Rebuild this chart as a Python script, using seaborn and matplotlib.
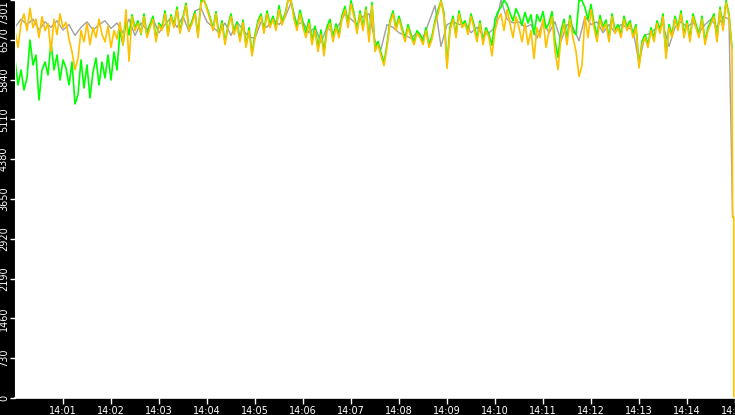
import numpy as np
import pandas as pd
import seaborn as sns
import matplotlib
matplotlib.use("Agg")
import matplotlib.pyplot as plt

# sampling step (seconds) from 14:00
sample_s = 3.75
gray_sample_s = 7.5

orange_vals = [
    6740, 6430, 6870, 7046, 6740, 7150, 6794, 6948, 6610, 6996,
    6740, 6870, 6354, 6948, 6668, 7046, 6794, 6892, 6584, 6354,
    6024, 6226, 6740, 6534, 6870, 6482, 6794, 6610, 6948, 6668,
    6534, 6822, 6430, 6740, 6584, 6892, 6482, 7124, 6178, 6996,
    6740, 6870, 6688, 6996, 6610, 6794, 6948, 6534, 6843, 6740,
    7046, 6640, 6996, 6794, 7124, 6688, 6948, 7200, 6740, 6870,
    7046, 6610, 7253, 7290, 7124, 6948, 6740, 7046, 6610, 6870,
    6482, 6794, 6996, 6668, 6843, 6534, 6892, 6430, 6740, 6276,
    6610, 6870, 6996, 6688, 7046, 6794, 6948, 6740, 7124, 6843,
    6996, 7290, 7290, 6948, 6740, 7046, 6794, 6610, 6870, 6482,
    6740, 6354, 6668, 6276, 6740, 6870, 6534, 6794, 6610, 6948,
    7124, 6794, 7228, 6996, 6688, 7046, 6740, 7124, 6534, 7200,
    6354, 6482, 6276, 6097, 6430, 6870, 7046, 6740, 6948, 6740,
    6534, 6794, 6610, 6482, 6688, 6610, 6482, 6740, 6430, 6584,
    6870, 7046, 7278, 6996, 6045, 6740, 6948, 6610, 7046, 6794,
    6870, 6668, 6996, 6794, 6534, 6870, 6482, 6740, 6610, 6276,
    6740, 6948, 7046, 6740, 7124, 6870, 6610, 6996, 6794, 6534,
    6870, 6482, 6740, 6226, 6794, 6610, 6948, 6430, 6740, 6996,
    6354, 6024, 6610, 6870, 6482, 6948, 6610, 6354, 5900, 6100,
    6996, 6610, 7124, 6794, 6534, 6948, 6740, 6870, 6534, 6996,
    6688, 6794, 6610, 6948, 6740, 6870, 6610, 6794, 6054, 6482,
    6610, 6430, 6740, 6534, 6870, 6688, 6996, 6226, 6794, 6610,
    6948, 6740, 7046, 6610, 6870, 6534, 6996, 6794, 6610, 6948,
    6482, 6740, 6870, 6996, 6534, 7124, 6740, 7253, 6996, 6384,
]
# the drop at the very end of the window
orange_tail_t = [897.0, 898.5, 898.5]
orange_tail = [3320, 3320, 0]

green_vals = [
    6201, 5742, 6017, 5650, 5870, 6567, 6109, 6292, 5467, 6017,
    6164, 5925, 6530, 6017, 6292, 5833, 6201, 6054, 5742, 6164,
    5394, 5559, 6201, 5687, 6109, 5504, 5980, 6237, 5742, 6164,
    5870, 6292, 5833, 6347, 6017, 6751, 6476, 6934, 6659, 7032,
    6794, 6920, 6668, 7046, 6654, 6850, 7004, 6584, 6878, 6794,
    7102, 6668, 7032, 6836, 7172, 6724, 6990, 7242, 6780, 6906,
    7088, 6654, 7290, 7301, 7158, 6990, 6780, 7088, 6654, 6920,
    6528, 6836, 7046, 6710, 6892, 6584, 6934, 6472, 6794, 6318,
    6668, 6920, 7046, 6738, 7102, 6850, 7004, 6794, 7200, 6906,
    7046, 7294, 7301, 7018, 6808, 7116, 6878, 6696, 6948, 6556,
    6822, 6430, 6752, 6346, 6808, 6948, 6598, 6864, 6668, 7018,
    7186, 6864, 7290, 7060, 6752, 7102, 6808, 7172, 6598, 7256,
    6416, 6542, 6332, 6150, 6486, 6920, 7102, 6794, 7004, 6794,
    6598, 6850, 6668, 6542, 6738, 6668, 6542, 6794, 6486, 6640,
    6920, 7116, 7290, 7060, 6108, 6794, 7004, 6668, 7102, 6850,
    6920, 6724, 7046, 6850, 6598, 6920, 6542, 6794, 6668, 6472,
    6948, 7088, 7172, 7301, 7220, 7060, 6920, 7144, 7018, 6836,
    7074, 6878, 7032, 6668, 7032, 6906, 7088, 6780, 6878, 7088,
    6556, 6248, 6738, 6948, 6584, 7018, 6724, 6668, 7301, 7290,
    7158, 6948, 7220, 6878, 6640, 7018, 6808, 6934, 6598, 7046,
    6752, 6850, 6668, 7004, 6808, 6920, 6668, 6850, 6100, 6542,
    6668, 6486, 6794, 6598, 6920, 6752, 7046, 6290, 6850, 6668,
    7004, 6794, 7102, 6668, 6920, 6598, 7046, 6850, 6668, 7004,
    6542, 6794, 6920, 7046, 6598, 7172, 6794, 7290, 7046, 6420,
]

gray_vals = [
    6800, 6950, 6850, 6950, 6750, 6900, 6800, 6920, 6750, 6850,
    6650, 6800, 6900, 6750, 6850, 6920, 6780, 6880, 6700, 6950,
    6650, 6880, 6750, 6950, 6700, 6850, 6980, 6800, 7000, 6720,
    7100, 7150, 6900, 6800, 6700, 6880, 6650, 6900, 6750, 6620,
    6600, 6900, 6800, 6950, 6850, 6980, 7250, 6850, 6900, 6700,
    6800, 6520, 6800, 6700, 6850, 7050, 6950, 6850, 7000, 7050,
    6550, 6400, 6850, 6800, 6700, 6650, 6600, 6700, 6600, 6900,
    7200, 6450, 6850, 6900, 6850, 6880, 6700, 6800, 6650, 6700,
    6800, 7301, 6950, 6880, 6900, 6800, 6850, 6600, 6900, 6700,
    6900, 6550, 6850, 6800, 6550, 7000, 6850, 6900, 6700, 6850,
    6700, 6850, 6800, 6750, 6150, 6650, 6700, 6800, 6850, 6450,
    6800, 6900, 6800, 6900, 6700, 6850, 6950, 6800, 7000, 6950,
]
gray_tail_t = [897.0]
gray_tail = [3320]

y_ticks = [0, 730, 1460, 2190, 2920, 3650, 4380, 5110, 5840, 6570, 7301]
x_ticks = [60, 120, 180, 240, 300, 360, 420, 480, 540, 600, 660, 720, 780, 840, 900]
x_labels = ['14:01', '14:02', '14:03', '14:04', '14:05', '14:06', '14:07', '14:08',
            '14:09', '14:10', '14:11', '14:12', '14:13', '14:14', '14:15']

orange_t = list(np.arange(len(orange_vals)) * sample_s) + orange_tail_t
green_t = list(np.arange(len(green_vals)) * sample_s)
gray_t = list(np.arange(len(gray_vals)) * gray_sample_s) + gray_tail_t

orange = pd.DataFrame({'t': orange_t, 'v': orange_vals + orange_tail})
green = pd.DataFrame({'t': green_t, 'v': green_vals})
gray = pd.DataFrame({'t': gray_t, 'v': gray_vals + gray_tail})

sns.set_style('white')
plt.rcParams['font.family'] = ['DejaVu Sans']

fig = plt.figure(figsize=(7.35, 4.15), dpi=100, facecolor='black')
ax = fig.add_axes([15 / 735, 17 / 415, 720 / 735, 398 / 415])
ax.set_facecolor('white')

sns.lineplot(data=gray, x='t', y='v', color='#a0a0a0', linewidth=1.0,
             estimator=None, sort=False, ax=ax)
sns.lineplot(data=green, x='t', y='v', color='#00ff00', linewidth=1.2,
             estimator=None, sort=False, ax=ax)
sns.lineplot(data=orange, x='t', y='v', color='#ffc000', linewidth=1.2,
             estimator=None, sort=False, ax=ax)

ax.set_xlim(0, 900)
ax.set_ylim(0, 7301)
ax.set_xlabel('')
ax.set_ylabel('')

ax.set_xticks(x_ticks)
ax.set_xticklabels(x_labels)
ax.set_yticks(y_ticks)
ax.set_yticklabels([str(v) for v in y_ticks], rotation=90, va='center')
ax.get_yticklabels()[-1].set_va('top')

ax.tick_params(axis='x', colors='white', labelsize=7, length=4.5, width=1, pad=1.5,
               direction='out', bottom=True)
ax.tick_params(axis='y', colors='white', labelsize=7, length=3.6, width=1, pad=0.8,
               direction='out', left=True)

for side in ['top', 'right']:
    ax.spines[side].set_visible(False)
ax.spines['bottom'].set_color('white')
ax.spines['bottom'].set_linewidth(1.2)
ax.spines['left'].set_color('white')

fig.savefig('out.png', dpi=100, facecolor='black')
